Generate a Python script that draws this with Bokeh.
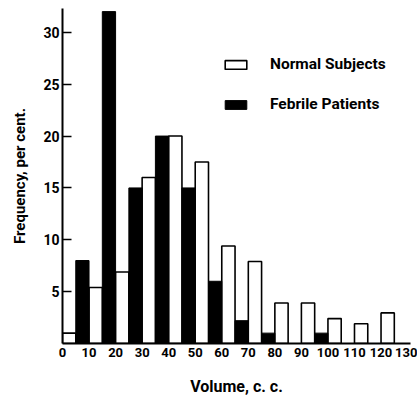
from bokeh.plotting import figure
from bokeh.models import Legend, LegendItem, FixedTicker, Range1d
from bokeh.embed import file_html
from bokeh.resources import INLINE

# ---- data ----
normal_bins = [0, 10, 20, 30, 40, 50, 60, 70, 80, 90, 100, 110, 120]
normal_freq = [1.0, 5.4, 6.9, 16.0, 20.0, 17.5, 9.4, 7.9, 3.9, 3.9, 2.4, 1.9, 2.95]
febrile_bins = [0, 10, 20, 30, 40, 50, 60, 70, 80, 90]
febrile_freq = [8.0, 32.0, 15.0, 20.0, 15.0, 6.0, 2.2, 1.0, 0.0, 1.0]
x_ticks = [0, 10, 20, 30, 40, 50, 60, 70, 80, 90, 100, 110, 120, 130]
y_ticks = [5, 10, 15, 20, 25, 30]
labels = ["Normal Subjects", "Febrile Patients"]

HALF = 5  # each series occupies half of a 10 c.c. interval
FONT = "Roboto"

p = figure(width=417, height=398, output_backend="svg", toolbar_location=None,
           x_range=Range1d(0, 131.1), y_range=Range1d(0, 32.3),
           min_border_left=62, min_border_right=7, min_border_top=8,
           min_border_bottom=50)
p.outline_line_color = None
p.xgrid.visible = False
p.ygrid.visible = False
p.background_fill_color = "white"
p.border_fill_color = "white"

r_norm = p.quad(left=[b for b in normal_bins], right=[b + HALF for b in normal_bins],
                bottom=0, top=normal_freq, fill_color="white",
                line_color="black", line_width=1.6)
r_feb = p.quad(left=[b + HALF for b in febrile_bins],
               right=[b + 2 * HALF for b in febrile_bins],
               bottom=0, top=febrile_freq, fill_color="black",
               line_color="black", line_width=1.0)

# axes
for ax in (p.xaxis[0], p.yaxis[0]):
    ax.axis_line_width = 2
    ax.axis_line_color = "black"
    ax.minor_tick_line_color = None
    ax.major_label_text_font = FONT
    ax.major_label_text_font_style = "bold"
    ax.major_label_text_color = "black"
    ax.axis_label_text_font = FONT
    ax.axis_label_text_font_style = "bold"
    ax.axis_label_text_color = "black"

p.xaxis.ticker = FixedTicker(ticks=x_ticks)
p.xaxis.major_tick_in = 0
p.xaxis.major_tick_out = 0
p.xaxis.major_label_standoff = 4
p.xaxis.major_label_text_font_size = "13px"
p.xaxis.axis_label = "Volume, c. c."
p.xaxis.axis_label_text_font_size = "16px"
p.xaxis.axis_label_standoff = 17

p.yaxis.ticker = FixedTicker(ticks=y_ticks)
p.yaxis.major_tick_in = 9
p.yaxis.major_tick_out = 0
p.yaxis.major_tick_line_width = 1.5
p.yaxis.major_label_standoff = 3
p.yaxis.major_label_text_font_size = "14px"
p.yaxis.axis_label = "Frequency, per cent."
p.yaxis.axis_label_text_font_size = "15px"
p.yaxis.axis_label_standoff = 11

legend = Legend(items=[LegendItem(label=labels[0], renderers=[r_norm]),
                       LegendItem(label=labels[1], renderers=[r_feb])],
                location=(160, 230), orientation="vertical",
                glyph_width=27, glyph_height=11, label_standoff=21,
                spacing=22, padding=0, margin=0,
                border_line_color=None, background_fill_alpha=0,
                label_text_font=FONT, label_text_font_style="bold",
                label_text_font_size="15.5px", label_text_color="black")
p.add_layout(legend)

open("out.html", "w").write(file_html(p, INLINE))
